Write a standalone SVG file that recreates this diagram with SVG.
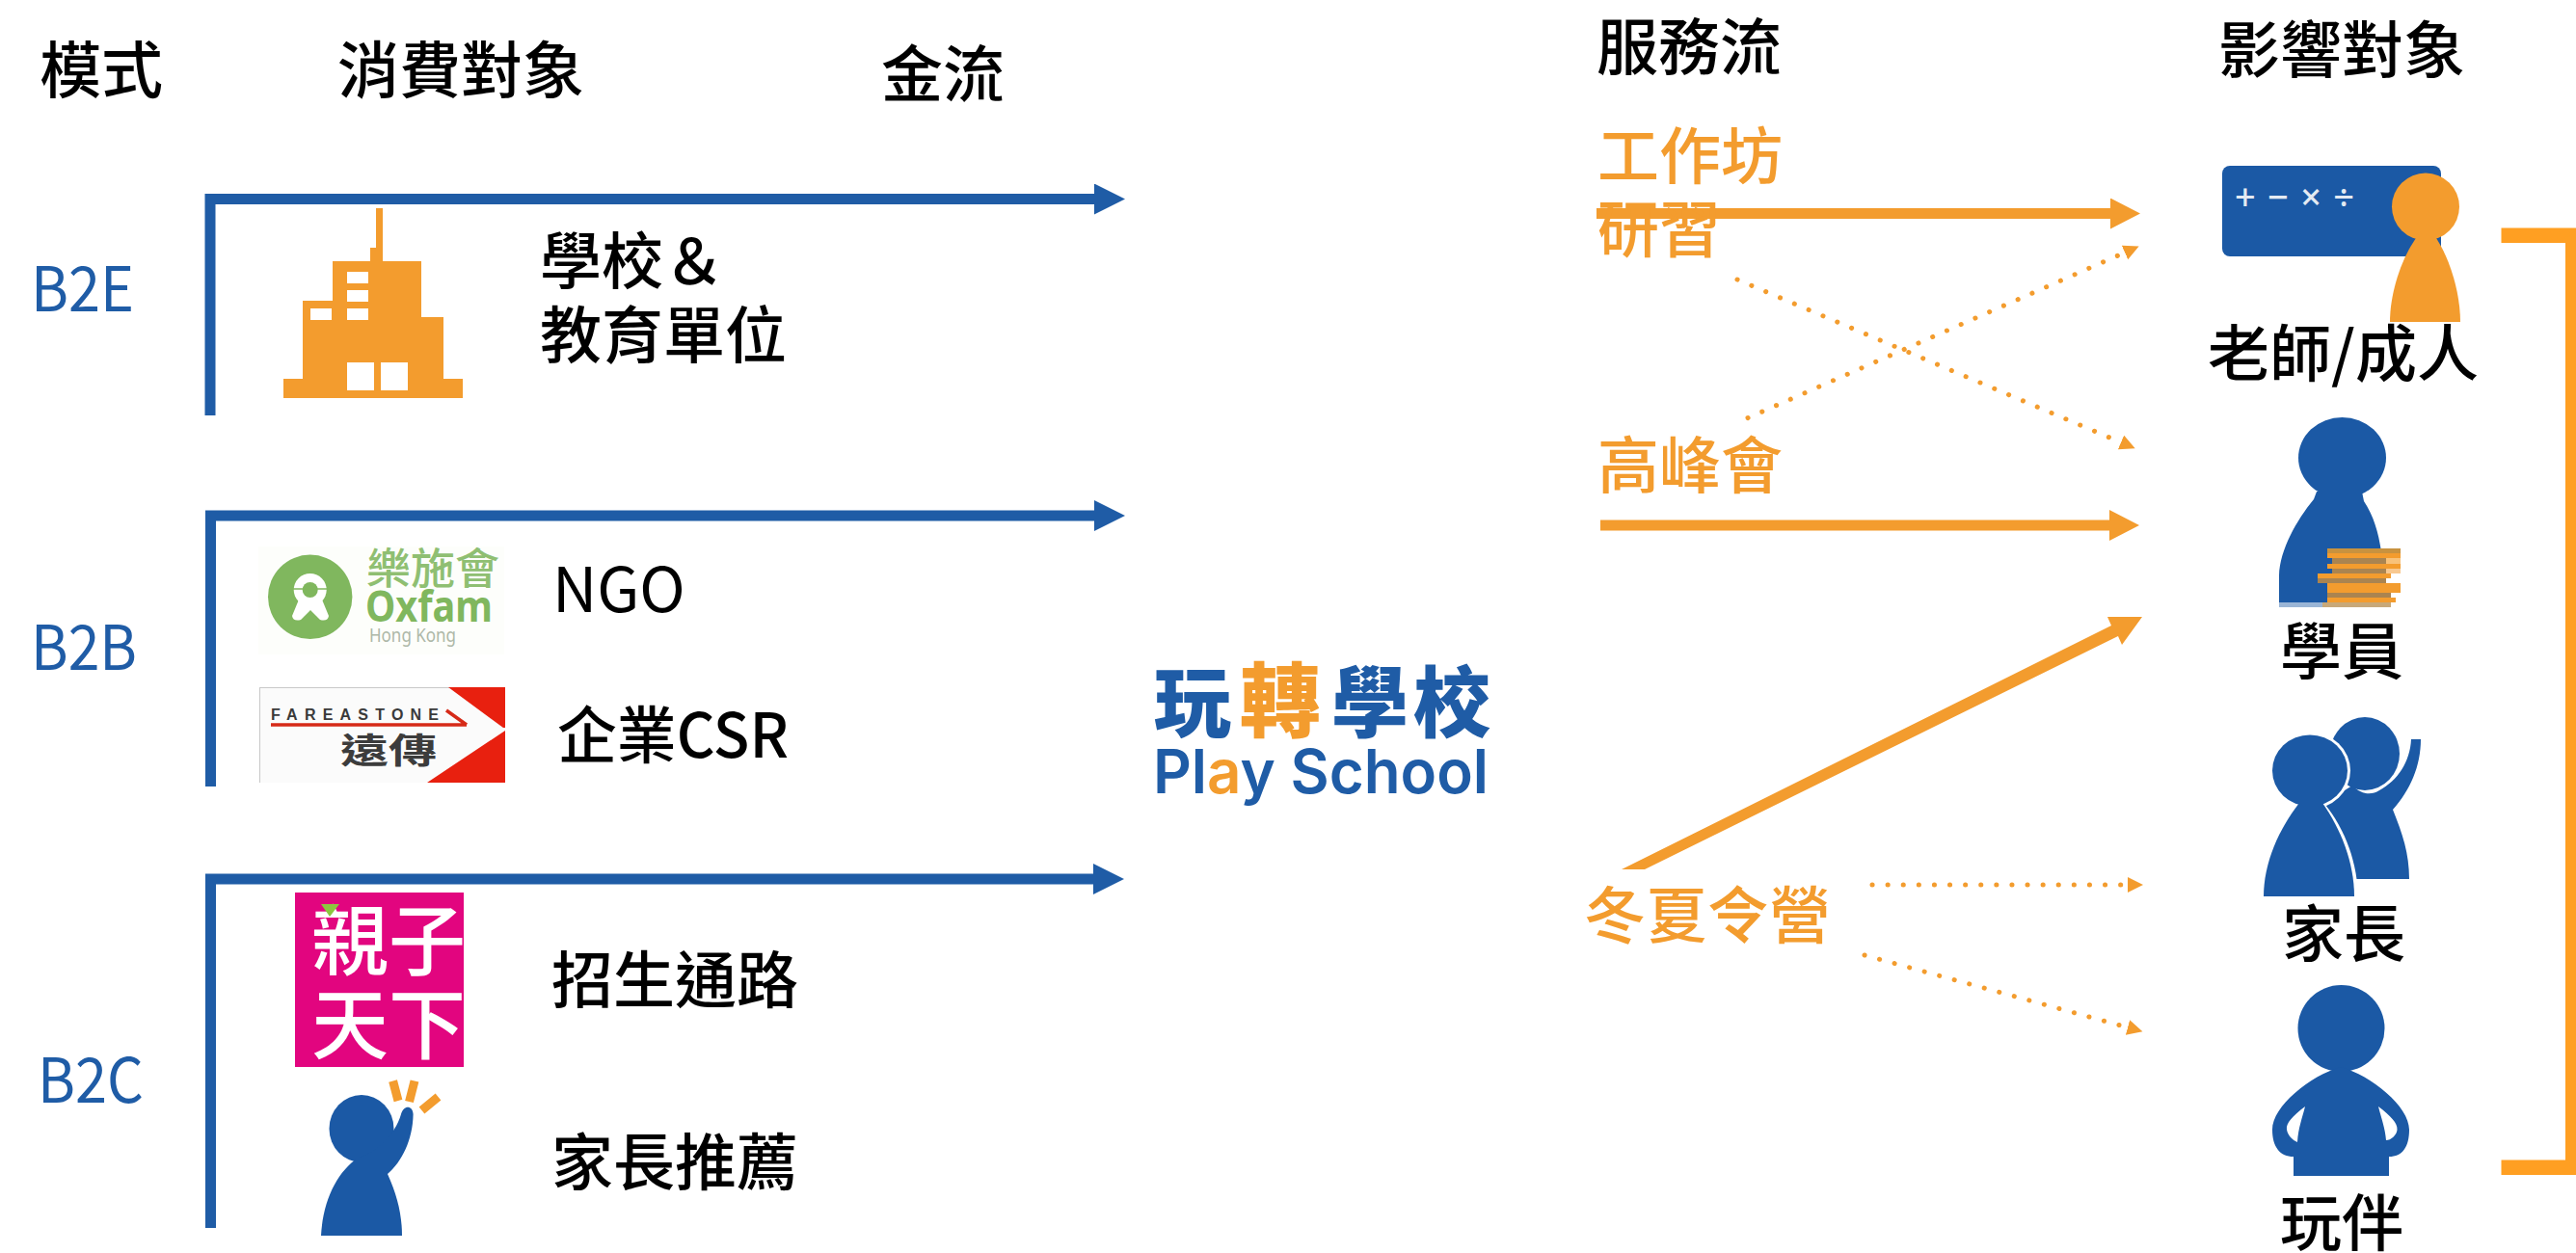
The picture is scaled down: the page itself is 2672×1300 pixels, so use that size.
<svg xmlns="http://www.w3.org/2000/svg" width="2672" height="1300" viewBox="0 0 2672 1300">
<defs>
<style>
text{font-family:"Noto Sans CJK TC","Noto Sans",sans-serif;font-size:64px;fill:#000;font-weight:500}
.blue{fill:#1F5CA6}
.org{fill:#F39C2E}
text.blue{fill:#1F5CA6;font-weight:400}
text.org{fill:#F39C2E}
.man{fill:#1B59A5}
.money{fill:none;stroke:#1F5CA6;stroke-width:11;marker-end:url(#hb)}
.flow{fill:none;stroke:#F39C2E;stroke-width:11;marker-end:url(#ho)}
.dot{fill:none;stroke:#F39C2E;stroke-width:5;stroke-linecap:round;stroke-dasharray:0.1 16;marker-end:url(#hd)}
</style>
<marker id="hb" markerUnits="userSpaceOnUse" markerWidth="34" markerHeight="34" refX="0" refY="16" orient="auto"><path d="M0 0L32 16L0 32Z" fill="#1F5CA6"/></marker>
<marker id="ho" markerUnits="userSpaceOnUse" markerWidth="34" markerHeight="34" refX="0" refY="16" orient="auto"><path d="M0 0L31 16L0 32Z" fill="#F39C2E"/></marker>
<marker id="hd" markerUnits="userSpaceOnUse" markerWidth="18" markerHeight="18" refX="0" refY="8" orient="auto"><path d="M0 0L16 8L0 16Z" fill="#F39C2E"/></marker>
</defs>
<rect width="2672" height="1300" fill="#fff"/>

<g id="headers">
<text x="41" y="96">模式</text>
<text x="350" y="96">消費對象</text>
<text x="914" y="100">金流</text>
<text x="1656" y="72">服務流</text>
<text x="2301" y="75">影響對象</text>
</g>

<g id="connectors">
<path class="money" d="M218 431V206.500H1135"/>
<path class="money" d="M218.500 816V535H1135"/>
<path class="money" d="M218.500 1274V912H1134"/>
<path class="flow" d="M1656 221.500H2189"/>
<path class="flow" d="M1660 545H2188"/>
<path d="M1682 902L1706 902L2197 660L2201 669L2222 640L2186 640L2190 649Z" class="org"/>
<path class="dot" d="M1802 290L2200 459"/>
<path class="dot" d="M1813 433.600L2204 262"/>
<path class="dot" d="M1942 918H2207"/>
<path class="dot" d="M1934 991L2207 1066"/>
<path d="M2594.500 236.500H2672V1219H2594.500V1203.500H2661V252H2594.500Z" fill="#FF9F22"/>
</g>

<g id="node-b2e">
<text class="blue" x="32" y="323" textLength="107" lengthAdjust="spacingAndGlyphs">B2E</text>
<path class="org" fill-rule="evenodd" d="M390 216H397V271H437V329H460V393H480V413H294V393H314V312H345V271H384V257H390ZM360 282V294H382V282ZM360 301V313H382V301ZM360 320V332H382V320ZM322 320V332H344V320ZM360 376V405H388V376ZM395 376V405H423V376Z"/>
<text x="560" y="294">學校＆</text>
<text x="560" y="371">教育單位</text>
</g>

<g id="node-b2b">
<text class="blue" x="32" y="695" textLength="110" lengthAdjust="spacingAndGlyphs">B2B</text>
<g id="logo-oxfam">
<rect x="268" y="567" width="255" height="112" fill="#FDFEFB"/>
<circle cx="321.700" cy="619.300" r="43.700" fill="#80B75E"/>
<circle cx="321.700" cy="612" r="17" fill="#fff"/>
<path d="M310 622L303 639Q304 645 312 643L322 633L332 643Q340 645 341 639L334 622Z" fill="#fff"/>
<circle cx="321.700" cy="612" r="8" fill="#80B75E"/>
<path d="M304 611H340" stroke="#80B75E" stroke-width="1.500"/>
<text x="380" y="606" style="font-size:44px;font-family:'Noto Sans CJK TC',sans-serif;fill:#8FBF72;font-weight:500" textLength="138" lengthAdjust="spacingAndGlyphs">樂施會</text>
<text x="379" y="645" style="font-size:44px;font-family:'Noto Sans','Liberation Sans',sans-serif;font-weight:700;fill:#80B75E" textLength="132" lengthAdjust="spacingAndGlyphs">Oxfam</text>
<text x="383" y="666" style="font-size:19px;font-family:'Noto Sans',sans-serif;font-weight:400;fill:#AEB8A8" textLength="90" lengthAdjust="spacingAndGlyphs">Hong Kong</text>
</g>
<text x="573" y="635" style="font-weight:400">NGO</text>
<g id="logo-fareastone">
<rect x="269" y="713" width="255" height="99" fill="#FBFBFB"/>
<path d="M269 713.500H524" stroke="#C8C8C8" stroke-width="1"/>
<path d="M269.500 713V812" stroke="#C8C8C8" stroke-width="1"/>
<path d="M465 713H524V755L522 755ZM524 758V812H443Z" fill="#E8200F"/>
<text x="281" y="747" style="font-size:16px;font-family:'Liberation Sans',sans-serif;font-weight:700;fill:#3A3A3A" textLength="174">FAREASTONE</text>
<path d="M281 752H484M463 737L484 752" fill="none" stroke="#D62A18" stroke-width="3.500"/>
<text x="353" y="792" style="font-size:36px;font-family:'Noto Sans CJK TC',sans-serif;font-weight:700;fill:#3C3C3C" textLength="100" lengthAdjust="spacingAndGlyphs">遠傳</text>
</g>
<text x="578" y="786" textLength="240" lengthAdjust="spacingAndGlyphs">企業CSR</text>
</g>

<g id="node-b2c">
<text class="blue" x="39" y="1144" textLength="110" lengthAdjust="spacingAndGlyphs">B2C</text>
<g id="logo-parenting">
<rect x="306" y="926" width="175" height="181" fill="#E2057F"/>
<text x="323" y="1005" style="font-size:80px;fill:#fff">親子</text>
<text x="323" y="1092" style="font-size:80px;fill:#fff">天下</text>
<path d="M333 938H352L342 951Z" fill="#8CC63F"/>
</g>
<text x="572" y="1040">招生通路</text>
<g id="parent-icon">
<ellipse class="man" cx="375" cy="1171" rx="33.500" ry="35"/>
<path class="man" d="M333 1282C335 1245 350 1215 372 1201C388 1197 410 1178 416 1156C419 1146 428 1147 428.600 1156C428 1183 417 1205 402 1218C412 1240 417 1260 417 1282Z"/>
<path d="M407.600 1121.500L413 1142M430 1121.500L424.500 1143M454.500 1138L437.500 1152" fill="none" stroke="#F39C2E" stroke-width="9"/>
</g>
<text x="572" y="1229">家長推薦</text>
</g>

<g id="node-playschool">
<text class="blue" x="1197" y="758" style="font-size:80px;font-weight:900">玩</text>
<text class="org" x="1286" y="758" style="font-size:84px;font-weight:900">轉</text>
<text class="blue" x="1381" y="758" style="font-size:80px;font-weight:900">學</text>
<text class="blue" x="1466" y="758" style="font-size:80px;font-weight:900">校</text>
<text class="blue" x="1196" y="823" textLength="348" lengthAdjust="spacingAndGlyphs" style="font-family:Inter,'Noto Sans',sans-serif;font-size:63px;font-weight:600">Pl<tspan style="fill:#F39C2E">a</tspan>y School</text>
</g>

<g id="node-workshop"><text class="org" x="1657" y="185">工作坊</text><text class="org" x="1657" y="261">研習</text></g>
<g id="node-summit"><text class="org" x="1657" y="506">高峰會</text></g>
<g id="node-camp"><text class="org" x="1643" y="973">冬夏令營</text></g>

<g id="node-teacher">
<rect class="man" x="2305" y="172" width="227" height="94" rx="8"/>
<text x="2318" y="218" style="font-size:38px;fill:#E4EAF2;font-family:'Noto Sans',sans-serif" textLength="124">+−×÷</text>
<ellipse class="org" cx="2516" cy="214.500" rx="35" ry="35"/>
<path class="org" d="M2506 247H2527C2542 270 2552 305 2552 334H2479C2479 305 2490 270 2506 247Z"/>
<text x="2290" y="390">老師/成人</text>
</g>

<g id="node-student">
<ellipse class="man" cx="2429.500" cy="475" rx="45.500" ry="42"/>
<path class="man" d="M2403 510H2450L2452 520C2462 535 2467 552 2470 572L2470 625H2364V597C2365 570 2382 540 2400 518Z"/>
<rect x="2364" y="625" width="45" height="5" fill="#9AB5D6"/>
<g shape-rendering="crispEdges">
<rect x="2414" y="569" width="76" height="5" fill="#C8923F"/>
<rect x="2414" y="574" width="76" height="5" fill="#F39C2E"/>
<rect x="2419" y="579" width="56" height="6" fill="#AA8450"/>
<rect x="2475" y="579" width="15" height="6" fill="#F8C27A"/>
<rect x="2414" y="585" width="76" height="5" fill="#F39C2E"/>
<rect x="2419" y="590" width="56" height="5" fill="#AA8450"/>
<rect x="2475" y="590" width="15" height="5" fill="#F8C890"/>
<rect x="2404" y="595" width="76" height="5" fill="#F39C2E"/>
<rect x="2404" y="600" width="71" height="5" fill="#AA8450"/>
<rect x="2414" y="605" width="76" height="10" fill="#F39C2E"/>
<rect x="2414" y="615" width="66" height="5" fill="#AA8450"/>
<rect x="2414" y="620" width="71" height="5" fill="#F39C2E"/>
<rect x="2409" y="625" width="71" height="5" fill="#C8A878"/>
</g>
<text x="2365" y="699">學員</text>
</g>

<g id="node-parents">
<ellipse class="man" cx="2453" cy="782" rx="36" ry="38"/>
<path class="man" d="M2501 767H2511C2511 795 2500 820 2482 840C2492 865 2499 885 2499 912H2400V840L2440 815C2450 825 2460 825 2468 820C2487 810 2500 790 2501 767Z"/>
<ellipse cx="2396" cy="799.500" rx="42" ry="40" fill="#fff"/>
<path d="M2384 835H2412C2432 860 2446 895 2446 934H2342C2342 895 2362 860 2384 835Z" fill="#fff"/>
<ellipse class="man" cx="2396" cy="799.500" rx="39" ry="37"/>
<path class="man" d="M2385 833H2409C2428 860 2442 895 2442 930H2348C2348 895 2364 860 2385 833Z"/>
<text x="2367" y="992">家長</text>
</g>

<g id="node-playmate">
<ellipse class="man" cx="2428.500" cy="1067" rx="45" ry="45"/>
<path class="man" d="M2428 1107C2460 1116 2499 1148 2499 1172C2499 1190 2492 1200 2478 1200V1220H2379V1200C2365 1200 2357 1190 2357 1172C2357 1148 2396 1116 2428 1107Z"/>
<path d="M2391 1148C2378 1158 2371 1165 2372 1172C2373 1178 2378 1183 2383 1185C2384 1170 2388 1160 2391 1148ZM2467 1148C2480 1158 2487 1165 2486.500 1172C2486 1178 2480 1183 2475 1183C2474 1170 2470 1160 2467 1148Z" fill="#fff"/>
<text x="2365" y="1292">玩伴</text>
</g>
</svg>
